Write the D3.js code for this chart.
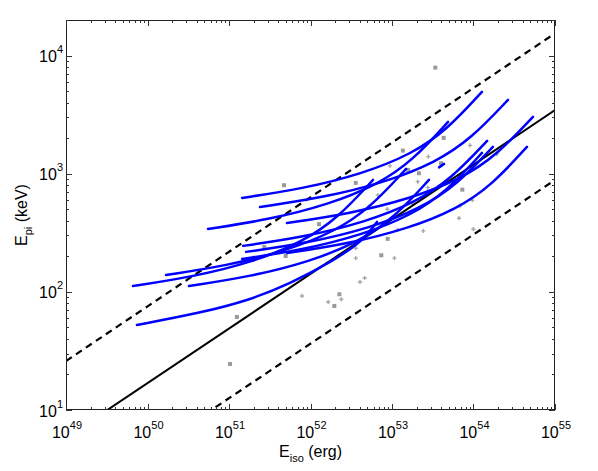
<!DOCTYPE html>
<html><head><meta charset="utf-8">
<script src="https://cdn.jsdelivr.net/npm/d3@7/dist/d3.min.js"></script>
<style>body{margin:0;background:#fff}svg{display:block}</style>
</head><body><svg id="c" width="598" height="471"></svg>
<script>
// ---- axes ----
const xDomain = [1e49, 1e55];
const yDomain = [10, 2e4];
const xTickExps = [49, 50, 51, 52, 53, 54, 55];
const yTickExps = [1, 2, 3, 4];
const xTitle = ["E", "iso", " (erg)"];
const yTitle = ["E", "pi", " (keV)"];

// ---- relation lines: endpoints [Eiso, Ep] ----
const solidLine = [[1e49, 5.83], [1e55, 3450]];
const upperLine = [[1e49, 26.0], [1e55, 15400]];
const lowerLine = [[1e49, 1.50], [1e55, 885]];

// ---- blue tracks ----
const trackEiso = [
  [1.45e51, 7.87e51, 4.29e52, 1.76e53, 4.73e53, 1.27e54],
  [2.40e51, 1.38e52, 7.98e52, 3.43e53, 9.53e53, 2.65e54],
  [5.52e50, 3.01e51, 1.64e52, 6.73e52, 1.81e53, 4.87e53],
  [5.15e51, 2.92e52, 1.66e53, 7.08e53, 1.95e54, 5.37e54],
  [1.49e51, 8.32e51, 4.67e52, 1.96e53, 5.36e53, 1.47e54],
  [1.62e51, 9.25e51, 5.30e52, 2.27e53, 6.28e53, 1.73e54],
  [1.45e51, 7.87e51, 4.29e52, 1.76e53, 4.73e53, 1.27e54],
  [5.15e51, 2.81e52, 1.53e53, 6.28e53, 1.69e54, 4.53e54],
  [1.69e50, 9.19e50, 5.00e51, 2.06e52, 5.52e52, 1.49e53],
  [6.64e49, 3.61e50, 1.97e51, 8.09e51, 2.17e52, 5.85e52],
  [3.23e50, 1.76e51, 9.59e51, 3.94e52, 1.06e53, 2.84e53],
  [7.43e49, 4.41e50, 1.81e51, 5.60e51, 1.89e52, 4.41e52, 6.55e52],
  [3.78e53, 4.35e53]
];
const trackEp = [
  [624, 744, 996, 1470, 2350, 4930],
  [523, 625, 839, 1245, 2000, 4217],
  [341, 407, 546, 810, 1301, 2745],
  [383, 457, 612, 904, 1443, 3027],
  [245, 291, 389, 573, 909, 1895],
  [218, 259, 346, 509, 809, 1687],
  [190, 226, 303, 448, 715, 1500],
  [213, 254, 341, 503, 804, 1687],
  [139, 166, 222, 328, 523, 1099],
  [112, 134, 179, 265, 423, 886],
  [112, 134, 179, 265, 423, 886],
  [52.5, 66.2, 85.4, 117, 183, 270, 391],
  [1131, 1211]
];

// ---- grey points ----
const squareEiso = [4.73e51, 2.71e51, 4.96e51, 1.25e51, 3.40e53, 4.31e53, 1.36e53, 3.59e52, 1.27e52,
  7.29e53, 3.99e53, 1.58e53, 2.14e53, 8.85e52, 7.39e52, 2.26e52, 1.96e52, 1.03e51];
const squareEp = [799, 240, 201, 61.3, 7910, 2010, 1569, 836, 374,
  733, 1227, 1077, 1009, 281, 204, 95.4, 76.0, 24.5];
const crossEiso = [7.87e51, 9.06e53, 2.79e53, 9.45e52, 6.68e52, 2.07e53, 2.74e53, 1.77e53, 8.75e52,
  6.83e53, 9.66e53, 6.64e53, 9.95e53, 2.42e53, 1.17e53, 3.59e52, 1.07e53, 3.59e52, 4.05e52, 4.62e52,
  1.65e52, 2.39e52, 1.93e54];
const crossEp = [92.3, 1737, 1396, 1165, 659, 857, 763, 563, 501,
  534, 597, 420, 339, 328, 334, 234, 193, 193, 121, 131,
  82.1, 86.5, 1466];

// ---- drawing ----
const svg = d3.select("#c");
const L = 66, R = 555, T = 20, B = 410;
const x = d3.scaleLog().domain(xDomain).range([L, R]);
const y = d3.scaleLog().domain(yDomain).range([B, T]);
const font = "'Liberation Sans', Arial, Helvetica, sans-serif";

svg.append("defs").append("clipPath").attr("id", "clip")
  .append("rect").attr("x", L).attr("y", T).attr("width", R - L).attr("height", B - T);
const plot = svg.append("g").attr("clip-path", "url(#clip)");

// grey points
plot.selectAll("rect.sq").data(squareEiso.map((e, i) => [e, squareEp[i]])).enter()
  .append("rect").attr("class", "sq")
  .attr("x", d => x(d[0]) - 2).attr("y", d => y(d[1]) - 2)
  .attr("width", 4).attr("height", 4).attr("fill", "#9a9a9a");
plot.selectAll("path.cr").data(crossEiso.map((e, i) => [e, crossEp[i]])).enter()
  .append("path").attr("class", "cr")
  .attr("d", d3.symbol().type(d3.symbolCross).size(10))
  .attr("transform", d => `translate(${x(d[0])},${y(d[1])})`)
  .attr("fill", "#a8a8a8");

// relation lines
const line = d3.line().x(d => x(d[0])).y(d => y(d[1]));
plot.append("path").attr("d", line(solidLine)).attr("fill", "none")
  .attr("stroke", "#000").attr("stroke-width", 2);
[upperLine, lowerLine].forEach(l => plot.append("path").attr("d", line(l)).attr("fill", "none")
  .attr("stroke", "#000").attr("stroke-width", 2.2).attr("stroke-dasharray", "7,5"));

// blue tracks
const curve = d3.line().x(d => x(d[0])).y(d => y(d[1])).curve(d3.curveBasis);
trackEiso.forEach((es, i) => {
  plot.append("path").attr("d", curve(es.map((e, j) => [e, trackEp[i][j]])))
    .attr("fill", "none").attr("stroke", "#0000ff").attr("stroke-width", 2.5)
    .attr("stroke-linecap", "round");
});

// frame
svg.append("rect").attr("x", L + 0.5).attr("y", T + 0.5).attr("width", R - L - 1).attr("height", B - T - 1)
  .attr("fill", "none").attr("stroke", "#222").attr("stroke-width", 1);

// ticks
const tg = svg.append("g").attr("stroke", "#333").attr("stroke-width", 1);
function ticksFor(exps, domain) {
  const out = [];
  exps.forEach(k => {
    for (let m = 1; m <= 9; m++) {
      const v = m * Math.pow(10, k);
      if (v >= domain[0] * 0.999 && v <= domain[1] * 1.001) out.push({ v, major: m === 1 });
    }
  });
  return out;
}
ticksFor(xTickExps, xDomain).forEach(t => {
  const px = Math.round(x(t.v)) + 0.5, len = t.major ? 6 : 3;
  tg.append("line").attr("x1", px).attr("x2", px).attr("y1", B).attr("y2", B - len);
  tg.append("line").attr("x1", px).attr("x2", px).attr("y1", T).attr("y2", T + len);
});
ticksFor(yTickExps, yDomain).forEach(t => {
  const py = Math.round(y(t.v)) + 0.5, len = t.major ? 6 : 3;
  tg.append("line").attr("y1", py).attr("y2", py).attr("x1", L).attr("x2", L + len);
  tg.append("line").attr("y1", py).attr("y2", py).attr("x1", R).attr("x2", R - len);
});

// tick labels
xTickExps.forEach(k => {
  const t = svg.append("text").attr("x", x(Math.pow(10, k)) + 1).attr("y", 438)
    .attr("text-anchor", "middle").attr("font-family", font).attr("font-size", 16).attr("fill", "#000");
  t.append("tspan").text("10");
  t.append("tspan").attr("font-size", 11).attr("dy", -9).text(k);
});
yTickExps.forEach(k => {
  const t = svg.append("text").attr("x", 63).attr("y", y(Math.pow(10, k)) + 6.5)
    .attr("text-anchor", "end").attr("font-family", font).attr("font-size", 16).attr("fill", "#000");
  t.append("tspan").text("10");
  t.append("tspan").attr("font-size", 11).attr("dy", -9).text(k);
});

// axis titles
const xt = svg.append("text").attr("x", (L + R) / 2).attr("y", 457).attr("text-anchor", "middle")
  .attr("font-family", font).attr("font-size", 16).attr("fill", "#000");
xt.append("tspan").text(xTitle[0]);
xt.append("tspan").attr("font-size", 11).attr("dy", 5).text(xTitle[1]);
xt.append("tspan").attr("dy", -5).text(xTitle[2]);

const yt = svg.append("text").attr("transform", `translate(27,${(T + B) / 2}) rotate(-90)`)
  .attr("text-anchor", "middle").attr("font-family", font).attr("font-size", 16).attr("fill", "#000");
yt.append("tspan").text(yTitle[0]);
yt.append("tspan").attr("font-size", 11).attr("dy", 5).text(yTitle[1]);
yt.append("tspan").attr("dy", -5).text(yTitle[2]);
</script></body></html>
